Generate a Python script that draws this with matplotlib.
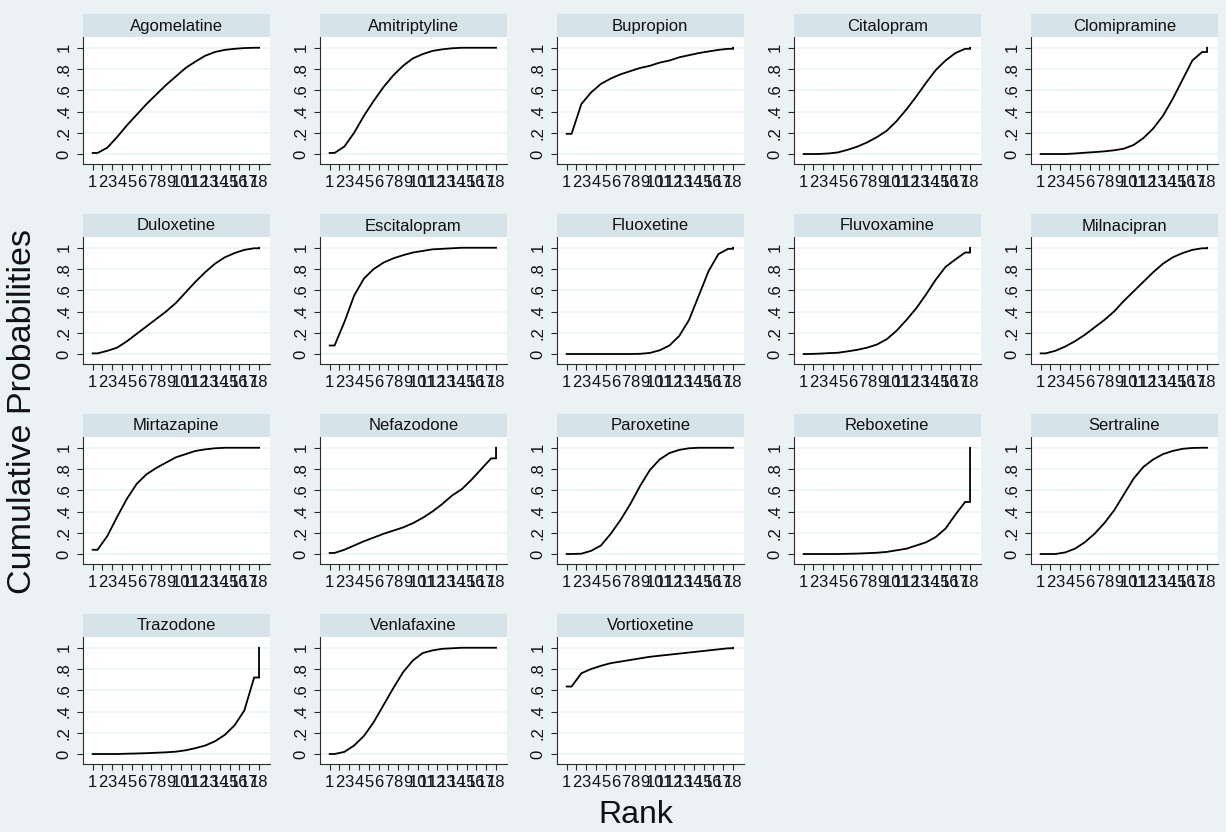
import matplotlib.pyplot as plt
from matplotlib.patches import Rectangle

plt.rcParams['font.family'] = ['Liberation Sans', 'DejaVu Sans']

# cumulative probability of being at rank <= k, k = 1..18
drugs = ["Agomelatine", "Amitriptyline", "Bupropion", "Citalopram", "Clomipramine",
         "Duloxetine", "Escitalopram", "Fluoxetine", "Fluvoxamine", "Milnacipran",
         "Mirtazapine", "Nefazodone", "Paroxetine", "Reboxetine", "Sertraline",
         "Trazodone", "Venlafaxine", "Vortioxetine"]

agomelatine = [0.01, 0.06, 0.16, 0.27, 0.37, 0.47, 0.56, 0.65, 0.73, 0.81, 0.87, 0.925, 0.96, 0.98, 0.99, 0.997, 1.0, 1.0]
amitriptyline = [0.01, 0.07, 0.20, 0.36, 0.50, 0.63, 0.74, 0.83, 0.90, 0.94, 0.97, 0.985, 0.995, 1.0, 1.0, 1.0, 1.0, 1.0]
bupropion = [0.19, 0.47, 0.58, 0.66, 0.71, 0.75, 0.78, 0.81, 0.83, 0.86, 0.88, 0.91, 0.93, 0.95, 0.965, 0.98, 0.99, 1.0]
citalopram = [0.0, 0.0, 0.005, 0.015, 0.04, 0.07, 0.11, 0.16, 0.22, 0.31, 0.42, 0.54, 0.67, 0.79, 0.88, 0.95, 0.99, 1.0]
clomipramine = [0.0, 0.0, 0.0, 0.005, 0.012, 0.018, 0.025, 0.035, 0.05, 0.085, 0.15, 0.24, 0.36, 0.52, 0.70, 0.88, 0.96, 1.0]
duloxetine = [0.006, 0.03, 0.06, 0.12, 0.19, 0.26, 0.33, 0.40, 0.48, 0.58, 0.68, 0.77, 0.85, 0.91, 0.95, 0.98, 0.995, 1.0]
escitalopram = [0.08, 0.30, 0.55, 0.71, 0.80, 0.86, 0.90, 0.93, 0.955, 0.97, 0.985, 0.99, 0.995, 1.0, 1.0, 1.0, 1.0, 1.0]
fluoxetine = [0.0, 0.0, 0.0, 0.0, 0.0, 0.0, 0.0, 0.002, 0.01, 0.035, 0.08, 0.17, 0.32, 0.55, 0.78, 0.94, 0.99, 1.0]
fluvoxamine = [0.0, 0.003, 0.008, 0.012, 0.025, 0.04, 0.06, 0.09, 0.14, 0.22, 0.32, 0.43, 0.56, 0.70, 0.82, 0.89, 0.955, 1.0]
milnacipran = [0.006, 0.03, 0.07, 0.12, 0.18, 0.25, 0.32, 0.40, 0.50, 0.59, 0.68, 0.77, 0.85, 0.91, 0.95, 0.98, 0.995, 1.0]
mirtazapine = [0.04, 0.17, 0.35, 0.52, 0.66, 0.75, 0.81, 0.86, 0.91, 0.94, 0.97, 0.985, 0.995, 1.0, 1.0, 1.0, 1.0, 1.0]
nefazodone = [0.01, 0.04, 0.08, 0.12, 0.155, 0.19, 0.22, 0.25, 0.29, 0.34, 0.40, 0.47, 0.55, 0.61, 0.70, 0.80, 0.90, 1.0]
paroxetine = [0.0, 0.003, 0.03, 0.08, 0.19, 0.32, 0.47, 0.64, 0.79, 0.89, 0.95, 0.98, 0.995, 1.0, 1.0, 1.0, 1.0, 1.0]
reboxetine = [0.0, 0.0, 0.0, 0.0, 0.002, 0.004, 0.008, 0.012, 0.02, 0.035, 0.05, 0.08, 0.11, 0.16, 0.24, 0.37, 0.49, 1.0]
sertraline = [0.0, 0.0, 0.015, 0.05, 0.11, 0.19, 0.29, 0.41, 0.56, 0.71, 0.82, 0.89, 0.94, 0.97, 0.99, 0.998, 1.0, 1.0]
trazodone = [0.0, 0.0, 0.0, 0.003, 0.005, 0.008, 0.012, 0.016, 0.022, 0.035, 0.055, 0.08, 0.12, 0.18, 0.27, 0.41, 0.72, 1.0]
venlafaxine = [0.0, 0.02, 0.08, 0.17, 0.30, 0.46, 0.62, 0.77, 0.88, 0.95, 0.975, 0.99, 0.995, 1.0, 1.0, 1.0, 1.0, 1.0]
vortioxetine = [0.635, 0.76, 0.80, 0.83, 0.855, 0.87, 0.885, 0.90, 0.915, 0.925, 0.935, 0.945, 0.955, 0.965, 0.975, 0.985, 0.995, 1.0]

series = [agomelatine, amitriptyline, bupropion, citalopram, clomipramine,
          duloxetine, escitalopram, fluoxetine, fluvoxamine, milnacipran,
          mirtazapine, nefazodone, paroxetine, reboxetine, sertraline,
          trazodone, venlafaxine, vortioxetine]

ranks = list(range(1, 19))
ytick_vals = [0, 0.2, 0.4, 0.6, 0.8, 1]
ytick_labels = ["0", ".2", ".4", ".6", ".8", "1"]

BG = "#EAF2F3"
STRIP = "#D6E3E9"
AXC = "#2b2b2b"

W, H = 1226, 832
fig = plt.figure(figsize=(W / 100, H / 100), dpi=100, facecolor=BG)


def curve(vals):
    # midpoint style: rank k value drawn at k + 0.5, flat start and step at the end
    xs = [ranks[0]] + [r + 0.5 for r in ranks[:-1]] + [ranks[-1], ranks[-1]]
    ys = [vals[0]] + vals[:-1] + [vals[-2], vals[-1]]
    return xs, ys


for i, (name, vals) in enumerate(zip(drugs, series)):
    r, c = divmod(i, 5)
    left = 82.7 + 237 * c
    width = 187
    strip_top = 14.3 + 200 * r
    strip_h = 22.4
    plot_top = strip_top + strip_h
    plot_h = 127.3

    fig.add_artist(Rectangle((left / W, 1 - plot_top / H), width / W, strip_h / H,
                             transform=fig.transFigure, facecolor=STRIP, edgecolor="none"))
    fig.text((left + width / 2) / W, 1 - (strip_top + strip_h / 2 + 0.5) / H, name,
             ha="center", va="center", fontsize=12, color="#111111")

    ax = fig.add_axes([left / W, 1 - (plot_top + plot_h) / H, width / W, plot_h / H])
    ax.set_facecolor("white")
    for yv in ytick_vals:
        ax.axhline(yv, color=BG, lw=1.1, zorder=1)
    xs, ys = curve(vals)
    ax.plot(xs, ys, color="black", lw=1.3, zorder=3, solid_joinstyle="miter")

    ax.set_xlim(-0.02, 19.09)
    ax.set_ylim(-0.094, 1.104)
    ax.set_xticks(ranks)
    ax.set_xticklabels([str(k) for k in ranks])
    ax.set_yticks(ytick_vals)
    ax.set_yticklabels(ytick_labels, rotation=90, va="center")
    ax.tick_params(axis="both", direction="out", length=4, width=0.8, color=AXC,
                   labelsize=12, labelcolor="#111111", pad=4)
    for side in ("top", "right"):
        ax.spines[side].set_visible(False)
    for side in ("left", "bottom"):
        ax.spines[side].set_color(AXC)
        ax.spines[side].set_linewidth(0.8)

fig.text(23 / W, 1 - 412 / H, "Cumulative Probabilities", rotation=90,
         ha="center", va="center", fontsize=24.5, color="#111111")
fig.text(636 / W, 1 - 815 / H, "Rank", ha="center", va="center", fontsize=23, color="#111111")

fig.savefig("out.png", dpi=100, facecolor=BG)
